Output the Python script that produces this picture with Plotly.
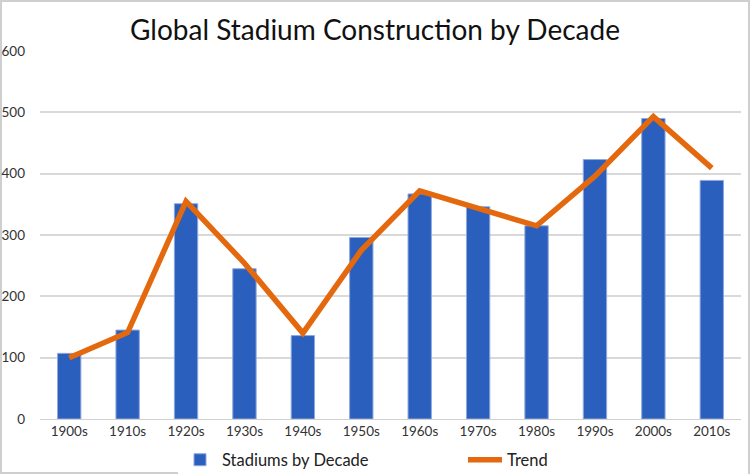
import plotly.graph_objects as go

decades = ["1900s", "1910s", "1920s", "1930s", "1940s", "1950s",
           "1960s", "1970s", "1980s", "1990s", "2000s", "2010s"]
stadiums = [107, 145, 351, 245, 136, 296, 367, 346, 315, 423, 490, 389]
trend = [100, 141, 355, 254, 140, 275, 372, 344, 315, 396, 493, 409]
y_ticks = [0, 100, 200, 300, 400, 500, 600]

FONT = "Lato"

fig = go.Figure()
fig.add_trace(go.Bar(
    x=decades, y=stadiums, name="Stadiums by Decade",
    marker=dict(color="#2a5fbe", line=dict(color="#8fa9dc", width=1)),
))
fig.add_trace(go.Scatter(
    x=decades, y=trend, name="Trend", mode="lines",
    line=dict(color="#e4690e", width=5.5),
))

W, H = 750, 474
ml, mr, mt, mb = 40, 9, 51, 55
pw, ph = W - ml - mr, H - mt - mb

fig.update_layout(
    width=W, height=H,
    margin=dict(l=ml, r=mr, t=mt, b=mb, autoexpand=False),
    paper_bgcolor="white", plot_bgcolor="white",
    font=dict(family=FONT, size=13, color="#333333"),
    title=dict(text="Global Stadium Construction by Decade",
               x=0.5, xanchor="center", y=1 - 30 / H, yanchor="middle",
               font=dict(family=FONT, size=28, color="#111111")),
    bargap=0.6,
    showlegend=True,
    legend=dict(orientation="h", x=(178 - ml) / pw, xanchor="left",
                y=-41 / ph, yanchor="middle",
                font=dict(family=FONT, size=16.5, color="#222222"),
                itemwidth=34, entrywidth=236, entrywidthmode="pixels",
                tracegroupgap=0),
    xaxis=dict(showgrid=False, showline=True, linecolor="#d0d0d0", linewidth=1,
               ticks="", tickfont=dict(size=13.5, color="#333333")),
    yaxis=dict(range=[0, 600], tickvals=y_ticks, showgrid=True,
               gridcolor="#d9d9d9", gridwidth=1.5, zeroline=False,
               showline=False, ticks="", ticklabelstandoff=14,
               tickfont=dict(size=13.5, color="#333333")),
)

# Outer chart border
fig.add_shape(type="rect", xref="paper", yref="paper",
              x0=-ml / pw + 1 / pw, x1=1 + (mr - 1) / pw,
              y0=-mb / ph + 1 / ph, y1=1 + (mt - 1) / ph,
              line=dict(color="#cfcfcf", width=2), fillcolor="rgba(0,0,0,0)",
              layer="below")

fig.write_html("out.html")
